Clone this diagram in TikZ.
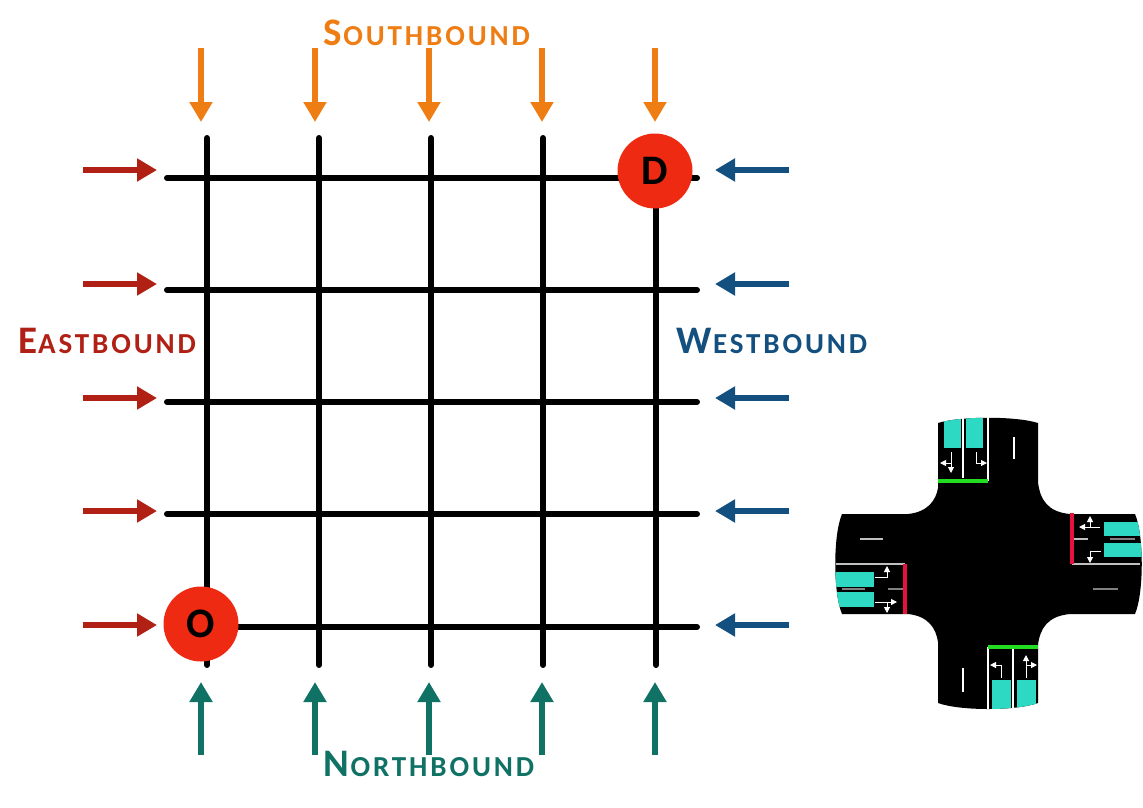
\documentclass[tikz,border=0pt]{standalone}
\usepackage{fontspec}
\setmainfont{Carlito}
\newfontfamily\dirrest{Carlito}[LetterSpace=10]
\usepackage{xcolor}
\usetikzlibrary{arrows.meta, positioning}
\definecolor{eastred}{HTML}{B02015}
\definecolor{southorange}{HTML}{EE7D14}
\definecolor{westblue}{HTML}{14507F}
\definecolor{northteal}{HTML}{0F7265}
\definecolor{odred}{HTML}{EE2A12}
\definecolor{laneteal}{HTML}{2ED9C3}
\definecolor{stopred}{HTML}{E8103C}
\definecolor{stopgreen}{HTML}{22DD22}
\newcommand{\dirname}[2]{{\bfseries\fontsize{39}{41}\selectfont #1\kern1pt}{\dirrest\bfseries\fontsize{29}{41}\selectfont #2}}
\tikzset{
  % Grid styles
  street/.style={draw=black, line width=6pt, line cap=round},
  flow/.style={-{Triangle[length=20pt, width=22pt]}, line width=6.5pt, draw=#1},
  dirlabel/.style={text=#1, inner sep=0pt},
  odnode/.style={circle, minimum size=75pt, inner sep=0pt, fill=odred, text=black, font=\fontsize{42}{44}\selectfont\bfseries},
  % Intersection styles
  lanebox/.style={fill=laneteal},
  stopline/.style={line width=3.5pt, draw=#1},
  marking/.style={line width=1.2pt, draw=#1},
  marking/.default={white},
  turn/.style={-{Triangle[length=6pt, width=6pt]}, line width=1pt, draw=white},
  crosspath/.style={insert path={
    (938,423) .. controls (960,416) and (1016,416) .. (1038,423)
    -- (1038,482) .. controls (1040,500) and (1048,512) .. (1070,514)
    -- (1135,514) .. controls (1144,535) and (1144,593) .. (1135,614)
    -- (1070,614) .. controls (1048,616) and (1040,628) .. (1038,645)
    -- (1038,703) .. controls (1016,711) and (960,711) .. (938,703)
    -- (938,642) .. controls (936,628) and (928,616) .. (908,614)
    -- (842,614) .. controls (833,593) and (833,535) .. (842,514)
    -- (908,514) .. controls (928,512) and (936,500) .. (938,488) -- cycle}},
}

\begin{document}
\begin{tikzpicture}[x=1pt, y=-1pt]
    \useasboundingbox (0,0) rectangle (1143,807);

    % Vertical streets
    \coordinate (vt1) at (207,138);
    \coordinate[right=112pt of vt1] (vt2);
    \coordinate[right=112pt of vt2] (vt3);
    \coordinate[right=112pt of vt3] (vt4);
    \coordinate[right=113pt of vt4] (vt5);
    \coordinate (vb1) at (207,665);
    \coordinate[right=112pt of vb1] (vb2);
    \coordinate[right=112pt of vb2] (vb3);
    \coordinate[right=112pt of vb3] (vb4);
    \coordinate[right=113pt of vb4] (vb5);
    \draw[street] (vt1) -- (vb1);
    \draw[street] (vt2) -- (vb2);
    \draw[street] (vt3) -- (vb3);
    \draw[street] (vt4) -- (vb4);
    \draw[street] (vt5) -- (vb5);

    % Horizontal streets
    \coordinate (hl1) at (167,178);
    \coordinate[below=112pt of hl1] (hl2);
    \coordinate[below=112pt of hl2] (hl3);
    \coordinate[below=112pt of hl3] (hl4);
    \coordinate[below=113pt of hl4] (hl5);
    \coordinate (hr1) at (697,178);
    \coordinate[below=112pt of hr1] (hr2);
    \coordinate[below=112pt of hr2] (hr3);
    \coordinate[below=112pt of hr3] (hr4);
    \coordinate[below=113pt of hr4] (hr5);
    \draw[street] (hl1) -- (hr1);
    \draw[street] (hl2) -- (hr2);
    \draw[street] (hl3) -- (hr3);
    \draw[street] (hl4) -- (hr4);
    \draw[street] (hl5) -- (hr5);

    % Origin and destination
    \node[odnode] (orig) at (201,624) {O};
    \node[odnode] (dest) at (655,171) {D};

    % Eastbound
    \coordinate (ea1) at (83,170);
    \coordinate[right=74pt of ea1] (eb1);
    \coordinate[below=114pt of ea1] (ea2);
    \coordinate[right=74pt of ea2] (eb2);
    \coordinate[below=114pt of ea2] (ea3);
    \coordinate[right=74pt of ea3] (eb3);
    \coordinate[below=113pt of ea3] (ea4);
    \coordinate[right=74pt of ea4] (eb4);
    \coordinate[below=114pt of ea4] (ea5);
    \coordinate[right=74pt of ea5] (eb5);
    \draw[flow=eastred] (ea1) -- (eb1);
    \draw[flow=eastred] (ea2) -- (eb2);
    \draw[flow=eastred] (ea3) -- (eb3);
    \draw[flow=eastred] (ea4) -- (eb4);
    \draw[flow=eastred] (ea5) -- (eb5);

    % Westbound
    \coordinate (wa1) at (789,170);
    \coordinate[left=74pt of wa1] (wb1);
    \coordinate[below=114pt of wa1] (wa2);
    \coordinate[left=74pt of wa2] (wb2);
    \coordinate[below=114pt of wa2] (wa3);
    \coordinate[left=74pt of wa3] (wb3);
    \coordinate[below=113pt of wa3] (wa4);
    \coordinate[left=74pt of wa4] (wb4);
    \coordinate[below=114pt of wa4] (wa5);
    \coordinate[left=74pt of wa5] (wb5);
    \draw[flow=westblue] (wa1) -- (wb1);
    \draw[flow=westblue] (wa2) -- (wb2);
    \draw[flow=westblue] (wa3) -- (wb3);
    \draw[flow=westblue] (wa4) -- (wb4);
    \draw[flow=westblue] (wa5) -- (wb5);

    % Southbound
    \coordinate (sa1) at (201,48);
    \coordinate[below=74pt of sa1] (sb1);
    \coordinate[right=114pt of sa1] (sa2);
    \coordinate[below=74pt of sa2] (sb2);
    \coordinate[right=114pt of sa2] (sa3);
    \coordinate[below=74pt of sa3] (sb3);
    \coordinate[right=113pt of sa3] (sa4);
    \coordinate[below=74pt of sa4] (sb4);
    \coordinate[right=113pt of sa4] (sa5);
    \coordinate[below=74pt of sa5] (sb5);
    \draw[flow=southorange] (sa1) -- (sb1);
    \draw[flow=southorange] (sa2) -- (sb2);
    \draw[flow=southorange] (sa3) -- (sb3);
    \draw[flow=southorange] (sa4) -- (sb4);
    \draw[flow=southorange] (sa5) -- (sb5);

    % Northbound
    \coordinate (na1) at (201,755);
    \coordinate[above=73pt of na1] (nb1);
    \coordinate[right=114pt of na1] (na2);
    \coordinate[above=73pt of na2] (nb2);
    \coordinate[right=114pt of na2] (na3);
    \coordinate[above=73pt of na3] (nb3);
    \coordinate[right=113pt of na3] (na4);
    \coordinate[above=73pt of na4] (nb4);
    \coordinate[right=113pt of na4] (na5);
    \coordinate[above=73pt of na5] (nb5);
    \draw[flow=northteal] (na1) -- (nb1);
    \draw[flow=northteal] (na2) -- (nb2);
    \draw[flow=northteal] (na3) -- (nb3);
    \draw[flow=northteal] (na4) -- (nb4);
    \draw[flow=northteal] (na5) -- (nb5);

    % Labels
    \node[dirlabel=southorange] (southlab) at (427,33) {\dirname{S}{OUTHBOUND}};
    \node[dirlabel=eastred] (eastlab) at (107,341) {\dirname{E}{ASTBOUND}};
    \node[dirlabel=westblue] (westlab) at (772,341) {\dirname{W}{ESTBOUND}};
    \node[dirlabel=northteal] (northlab) at (429,764) {\dirname{N}{ORTHBOUND}};

    % Intersection
    \fill[black, crosspath];
    \begin{scope}
      \clip[crosspath];
      \fill[lanebox] (944,415) rectangle (961,448);
      \fill[lanebox] (966,415) rectangle (983,448);
      \fill[lanebox] (992,680) rectangle (1011,712);
      \fill[lanebox] (1017,680) rectangle (1036,712);
      \fill[lanebox] (830,572) rectangle (874,587);
      \fill[lanebox] (830,592) rectangle (874,607);
      \fill[lanebox] (1104,522) rectangle (1145,536);
      \fill[lanebox] (1104,543) rectangle (1145,557);
    \end{scope}

    % Road markings
    \draw[marking] (988,417) -- (988,481);
    \draw[marking] (963,417) -- (963,478);
    \draw[marking] (1014,437) -- (1014,459);
    \draw[marking] (988,647) -- (988,709);
    \draw[marking] (1013,649) -- (1013,709);
    \draw[marking] (963,668) -- (963,692);
    \draw[marking=lightgray] (836,564) -- (905,564);
    \draw[marking=lightgray] (1072,564) -- (1140,564);
    \draw[marking=lightgray] (860,539) -- (883,539);
    \draw[marking=gray] (1093,589) -- (1118,589);
    \draw[marking=gray] (888,589) -- (905,589);
    \draw[marking=gray] (842,589) -- (865,589);
    \draw[marking=lightgray] (1073,539) -- (1088,539);
    \draw[marking=gray] (1110,539) -- (1135,539);

    % Stop lines
    \draw[stopline=stopgreen] (938,481) -- (988,481);
    \draw[stopline=stopgreen] (988,647) -- (1038,647);
    \draw[stopline=stopred] (905,564) -- (905,614);
    \draw[stopline=stopred] (1072,513) -- (1072,564);

    % Turn arrows
    \draw[turn] (951,452) -- (951,473);
    \draw[turn] (951,463) -- (940,463);
    \draw[turn] (976,452) -- (976,463) -- (987,463);
    \draw[turn] (1001,678) -- (1001,665) -- (990,665);
    \draw[turn] (1026,678) -- (1026,655);
    \draw[turn] (1026,665) -- (1037,665);
    \draw[turn] (875,577) -- (887,577) -- (887,566);
    \draw[turn] (875,602) -- (897,602);
    \draw[turn] (887,602) -- (887,613);
    \draw[turn] (1100,527) -- (1079,527);
    \draw[turn] (1090,527) -- (1090,516);
    \draw[turn] (1101,551) -- (1090,551) -- (1090,563);
  \end{tikzpicture}
\end{document}
